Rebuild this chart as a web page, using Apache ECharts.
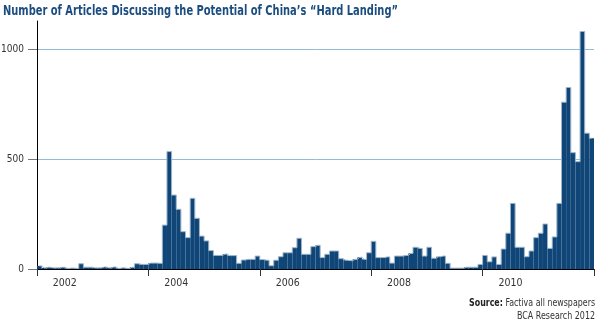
<!DOCTYPE html>
<html><head><meta charset="utf-8">
<script src="https://cdn.jsdelivr.net/npm/echarts@6/dist/echarts.min.js"></script>
<style>html,body{margin:0;padding:0;background:#fff}#c{width:600px;height:325px}</style>
</head><body><div id="c"></div>
<script>
const years = ['2002','2003','2004','2005','2006','2007','2008','2009','2010','2011'];
const articles = [
  14, 5, 8, 5, 5, 8, 3, 4, 3, 24, 8, 8,
  5, 5, 9, 5, 9, 3, 5, 3, 8, 24, 21, 21,
  27, 27, 26, 200, 535, 337, 272, 170, 143, 322, 231, 150,
  128, 84, 62, 62, 68, 61, 61, 26, 41, 44, 44, 59,
  43, 40, 15, 40, 56, 74, 74, 97, 140, 67, 67, 102,
  108, 52, 67, 82, 82, 47, 40, 38, 44, 53, 44, 74,
  126, 52, 52, 55, 27, 59, 59, 62, 71, 99, 94, 59,
  99, 49, 56, 59, 26, 4, 4, 4, 8, 8, 8, 21,
  62, 33, 55, 21, 91, 163, 299, 99, 99, 56, 82, 143,
  163, 205, 94, 146, 299, 760, 827, 530, 489, 1082, 619, 596
];
const yTicks = [0, 500, 1000];
const titleText = 'Number of Articles Discussing the Potential of China\u2019s \u201cHard Landing\u201d';
const sourceBold = 'Source:';
const sourceRest = ' Factiva all newspapers';
const sourceLine2 = 'BCA Research 2012';

const months = [];
years.forEach(y => { for (let m = 1; m <= 12; m++) months.push(y + '-' + String(m).padStart(2, '0')); });

const FONT = '"DejaVu Sans Condensed", "DejaVu Sans", sans-serif';
const mctx = document.createElement('canvas').getContext('2d');
function textW(t, font) { mctx.font = font; return mctx.measureText(t).width; }
const titleFont = 'bold 14px ' + FONT;
const titleScale = 395 / textW(titleText, titleFont);
const srcW = textW(sourceBold, 'bold 10px ' + FONT) + textW(sourceRest, '10px ' + FONT);
const srcScale = 126 / srcW;
const src2Scale = 78 / textW(sourceLine2, '10px ' + FONT);

const chart = echarts.init(document.getElementById('c'));
chart.setOption({
  animation: false,
  grid: { left: 37, right: 6, top: 21, bottom: 56, outerBoundsMode: 'none', containLabel: false },
  xAxis: [
    { type: 'category', data: months, boundaryGap: true,
      axisLine: { lineStyle: { color: '#000', width: 1 } },
      axisTick: { show: false }, axisLabel: { show: false }, splitLine: { show: false } },
    { type: 'category', data: years, position: 'bottom', boundaryGap: true,
      axisLine: { show: false },
      axisTick: { show: true, length: 7, lineStyle: { color: '#333' } },
      axisLabel: { interval: 1, color: '#333', fontFamily: FONT, fontSize: 10.5, margin: 9 },
      splitLine: { show: false } }
  ],
  yAxis: {
    type: 'value', min: 0, max: 1130,
    axisLine: { show: true, lineStyle: { color: '#000' } },
    axisTick: { show: true, length: 9, customValues: yTicks, lineStyle: { color: '#777' } },
    axisLabel: { customValues: yTicks, color: '#333', fontFamily: FONT, fontSize: 10, margin: 13,
      formatter: v => String(v) },
    splitLine: { show: true, lineStyle: { color: '#8fbcd6' } }
  },
  series: [
    { type: 'bar', data: articles, xAxisIndex: 0, barCategoryGap: '0%',
      itemStyle: { color: '#0f4677' }, z: 3 },
    { type: 'line', data: articles, xAxisIndex: 0, step: 'middle', symbol: 'none',
      lineStyle: { color: '#9fb6cc', width: 1 }, z: 4, silent: true }
  ],
  graphic: [
    { type: 'text', x: 3, y: 4, scaleX: titleScale,
      style: { x: 0, y: 0, text: titleText, font: titleFont, fill: '#1b4d80' } },
    { type: 'text', x: 595, y: 298, scaleX: srcScale,
      style: { x: 0, y: 0, textAlign: 'right',
        text: '{b|' + sourceBold + '}' + sourceRest,
        rich: { b: { fontWeight: 'bold', fontFamily: FONT, fontSize: 10, fill: '#222' } },
        fontFamily: FONT, fontSize: 10, fill: '#333' } },
    { type: 'text', x: 595, y: 311, scaleX: src2Scale,
      style: { x: 0, y: 0, textAlign: 'right', text: sourceLine2,
        fontFamily: FONT, fontSize: 10, fill: '#333' } }
  ]
});
</script></body></html>
